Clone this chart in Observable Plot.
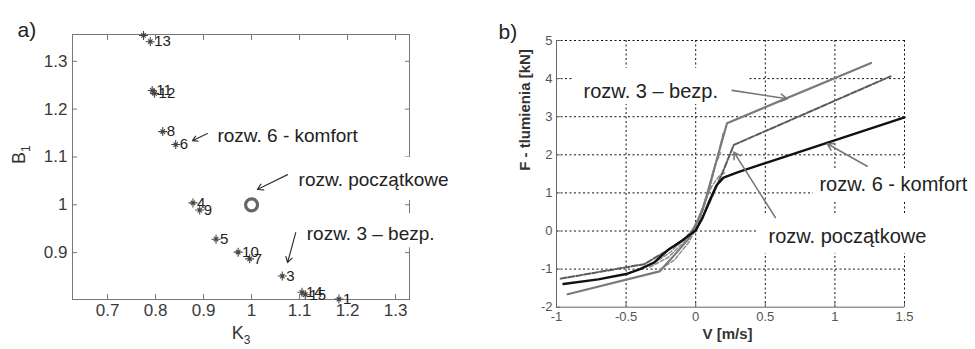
<!DOCTYPE html>
<html><head><meta charset="utf-8">
<script src="https://cdn.jsdelivr.net/npm/d3@7"></script>
<script src="https://cdn.jsdelivr.net/npm/@observablehq/plot@0.6"></script>
<style>
body{margin:0;background:#fff;}
#wrap{position:relative;width:975px;height:349px;overflow:hidden;background:#fff;}
#a{position:absolute;left:0;top:0;}
#b{position:absolute;left:480px;top:0;}
svg{overflow:visible;}
</style></head><body><div id="wrap"><div id="a"></div><div id="b"></div></div>
<script>
// ---------- Panel a data ----------
const solIds    = [1,2,3,4,5,6,7,8,9,10,11,12,13,14,15];
const solK3     = [1.182,0.775,1.064,0.878,0.926,0.842,0.996,0.815,0.892,0.972,0.793,0.798,0.789,1.105,1.112];
const solB1     = [0.803,1.354,0.851,1.004,0.928,1.126,0.887,1.153,0.989,0.901,1.239,1.233,1.341,0.817,0.812];
const solLabels = ["1","","3","4","5","6","7","8","9","10","11","12","13","14","15"];
const initK3 = [1.0];
const initB1 = [1.0];
const aXTicks = [0.7,0.8,0.9,1,1.1,1.2,1.3];
const aYTicks = [0.9,1,1.1,1.2,1.3];
const aXDomain = [0.627,1.329];
const aYDomain = [0.802,1.356];
const aAnnoText = ["rozw. 6 - komfort","rozw. początkowe","rozw. 3 – bezp."];
const aAnnoX = [0.929,1.098,1.115];
const aAnnoY = [1.144,1.053,0.940];
const aArrowX1 = [0.908,1.075,1.092];
const aArrowY1 = [1.149,1.063,0.942];
const aArrowX2 = [0.877,1.012,1.075];
const aArrowY2 = [1.134,1.032,0.879];
const aBoxX1 = [1.081,1.102];
const aBoxX2 = [1.435,1.404];
const aBoxY1 = [1.009,0.910];
const aBoxY2 = [1.099,0.9815];

// ---------- Panel b data ----------
const bXTicks = [-1,-0.5,0,0.5,1,1.5];
const bYTicks = [-2,-1,0,1,2,3,4,5];
const bXDomain = [-1,1.5];
const bYDomain = [-2,5];
const vRozw3 = [-0.92,-0.26,-0.15,-0.05,0.05,0.15,0.225,1.26];
const fRozw3 = [-1.66,-1.06,-0.62,-0.2,0.55,1.85,2.83,4.41];
const vInit  = [-0.97,-0.37,-0.22,-0.1,0,0.1,0.2,0.274,1.40];
const fInit  = [-1.25,-0.87,-0.55,-0.25,0.0,0.75,1.6,2.26,4.06];
const vR6    = [-0.95,-0.7,-0.5,-0.4,-0.3,-0.2,-0.1,0,0.05,0.1,0.15,0.2,0.3,1.5];
const fR6    = [-1.39,-1.27,-1.13,-1.0,-0.83,-0.5,-0.26,0.02,0.35,0.8,1.2,1.4,1.54,2.98];
const vO1 = [-0.33,-0.2,-0.1,0,0.08,0.14,0.18];
const fO1 = [-0.95,-0.7,-0.35,0.1,0.95,1.75,2.05];
const vO2 = [-0.3,-0.18,-0.08,0,0.07,0.12,0.17,0.22];
const fO2 = [-0.85,-0.55,-0.2,0.15,0.8,1.2,1.45,1.55];
const vO3 = [-0.25,-0.15,-0.05,0.02,0.1,0.16,0.2];
const fO3 = [-1.0,-0.75,-0.3,0.2,1.1,2.0,2.6];
const bAnnoText = ["rozw. 3 – bezp.","rozw. 6 - komfort","rozw. początkowe"];
const bAnnoX = [-0.806,0.889,0.523];
const bAnnoY = [3.65,1.205,-0.134];
const bArrowX1 = [0.262,1.232,0.573];
const bArrowY1 = [3.69,1.70,0.35];
const bArrowX2 = [0.657,0.945,0.274];
const bArrowY2 = [3.47,2.29,2.07];
const bBoxX1 = [-0.885,0.846,0.444];
const bBoxX2 = [0.379,1.70,1.76];
const bBoxY1 = [3.32,0.80,-0.59];
const bBoxY2 = [4.27,1.64,0.46];

const FONT = '"Liberation Sans", Arial, sans-serif';
const pts = (xs, ys) => xs.map((x, i) => ({x, y: ys[i]}));

const asterisk = {draw(ctx, size){
  const r = Math.sqrt(size / Math.PI);
  ctx.moveTo(-r, 0); ctx.lineTo(r, 0);
  ctx.moveTo(0, -r); ctx.lineTo(0, r);
  const d = r * 0.5;
  ctx.moveTo(-d, -d); ctx.lineTo(d, d);
  ctx.moveTo(-d, d); ctx.lineTo(d, -d);
}};

const solData = solIds.map((id, i) => ({id, k3: solK3[i], b1: solB1[i], label: solLabels[i]}));
const aAnno = aAnnoText.map((t, i) => ({t, x: aAnnoX[i], y: aAnnoY[i]}));
const aArrows = aArrowX1.map((_, i) => ({x1: aArrowX1[i], y1: aArrowY1[i], x2: aArrowX2[i], y2: aArrowY2[i]}));
const aBoxes = aBoxX1.map((_, i) => ({x1: aBoxX1[i], x2: aBoxX2[i], y1: aBoxY1[i], y2: aBoxY2[i]}));

const plotA = Plot.plot({
  width: 470, height: 349,
  marginLeft: 72, marginRight: 61, marginTop: 34, marginBottom: 50,
  x: {domain: aXDomain},
  y: {domain: aYDomain},
  style: {fontFamily: FONT, fontSize: "17px", color: "#3a3a3a", background: "transparent", overflow: "visible"},
  marks: [
    Plot.frame({stroke: "#777"}),
    Plot.axisX({ticks: aXTicks, tickSize: -5, tickPadding: 9, tickFormat: d => String(d), label: null, fontSize: 17, stroke: "#777"}),
    Plot.axisX({anchor: "top", ticks: aXTicks, tickSize: -5, tickFormat: () => "", label: null, stroke: "#777"}),
    Plot.axisY({ticks: aYTicks, tickSize: -5, tickPadding: 10, tickFormat: d => String(d), label: null, fontSize: 17, stroke: "#777"}),
    Plot.axisY({anchor: "right", ticks: aYTicks, tickSize: -5, tickFormat: () => "", label: null, stroke: "#777"}),
    Plot.rect(aBoxes, {x1: "x1", x2: "x2", y1: "y1", y2: "y2", fill: "white"}),
    Plot.dot(solData, {x: "k3", y: "b1", symbol: asterisk, r: 4.5, stroke: "#444", fill: "none", strokeWidth: 1.1}),
    Plot.text(solData, {x: "k3", y: "b1", text: "label", dx: 4, textAnchor: "start", fontSize: 15, fill: "#222"}),
    Plot.dot(pts(initK3, initB1), {x: "x", y: "y", r: 6, stroke: "#666", strokeWidth: 3.2, fill: "none"}),
    Plot.arrow(aArrows, {x1: "x1", y1: "y1", x2: "x2", y2: "y2", stroke: "#333", strokeWidth: 1.2, headLength: 8}),
    Plot.text(aAnno, {x: "x", y: "y", text: "t", textAnchor: "start", fontSize: 19, fill: "#222"}),
    Plot.text(["B₁"], {frameAnchor: "left", dx: -53, dy: -3, rotate: -90, fontSize: 18, fill: "#333"}),
    Plot.text(["K₃"], {frameAnchor: "bottom", dx: 0, dy: 39, fontSize: 18, fill: "#333"}),
    Plot.text(["a)"], {frameAnchor: "top-left", dx: -55, dy: -12, textAnchor: "start", fontSize: 21, fill: "#222"})
  ]
});
document.getElementById("a").appendChild(plotA);

const bAnno = bAnnoText.map((t, i) => ({t, x: bAnnoX[i], y: bAnnoY[i]}));
const bArrows = bArrowX1.map((_, i) => ({x1: bArrowX1[i], y1: bArrowY1[i], x2: bArrowX2[i], y2: bArrowY2[i]}));
const bBoxes = bBoxX1.map((_, i) => ({x1: bBoxX1[i], x2: bBoxX2[i], y1: bBoxY1[i], y2: bBoxY2[i]}));
const dash = {strokeDasharray: "4,2", stroke: "#8a8a8a", strokeWidth: 1.4};

const plotB = Plot.plot({
  width: 495, height: 349,
  marginLeft: 76, marginRight: 71, marginTop: 40, marginBottom: 42.3,
  x: {domain: bXDomain},
  y: {domain: bYDomain},
  style: {fontFamily: FONT, fontSize: "13px", color: "#555", background: "transparent", overflow: "visible"},
  marks: [
    Plot.gridX(bXTicks.slice(1), {stroke: "#111", strokeOpacity: 1, strokeDasharray: "2,2.5"}),
    Plot.gridY(bYTicks.slice(1), {stroke: "#111", strokeOpacity: 1, strokeDasharray: "2,2.5"}),
    Plot.rect(bBoxes, {x1: "x1", x2: "x2", y1: "y1", y2: "y2", fill: "white"}),
    Plot.ruleX([bXDomain[0]], {stroke: "#666"}),
    Plot.ruleY([bYDomain[0]], {stroke: "#666"}),
    Plot.axisX({ticks: bXTicks, tickSize: -4, tickPadding: 9, tickFormat: d => String(d), label: null, fontSize: 13, stroke: "#666"}),
    Plot.axisY({ticks: bYTicks, tickSize: -4, tickPadding: 8, tickFormat: d => String(d), label: null, fontSize: 13, stroke: "#666"}),
    Plot.line(pts(vO1, fO1), {x: "x", y: "y", ...dash}),
    Plot.line(pts(vO2, fO2), {x: "x", y: "y", ...dash}),
    Plot.line(pts(vO3, fO3), {x: "x", y: "y", ...dash}),
    Plot.line(pts(vInit, fInit), {x: "x", y: "y", stroke: "#5a5a5a", strokeWidth: 2, strokeDasharray: "6,2"}),
    Plot.line(pts(vRozw3, fRozw3), {x: "x", y: "y", stroke: "#7a7a7a", strokeWidth: 2.2}),
    Plot.line(pts(vR6, fR6), {x: "x", y: "y", stroke: "#111", strokeWidth: 2.4}),
    Plot.arrow(bArrows, {x1: "x1", y1: "y1", x2: "x2", y2: "y2", stroke: "#777", strokeWidth: 1.6, headLength: 7}),
    Plot.text(bAnno, {x: "x", y: "y", text: "t", textAnchor: "start", fontSize: 20, fill: "#222"}),
    Plot.text(["F - tlumienia [kN]"], {frameAnchor: "left", dx: -31, dy: -3, rotate: -90, fontSize: 15, fontWeight: "bold", fill: "#333"}),
    Plot.text(["V [m/s]"], {frameAnchor: "bottom", dx: -3, dy: 32, fontSize: 15, fontWeight: "bold", fill: "#333"}),
    Plot.text(["b)"], {frameAnchor: "top-left", dx: -58, dy: -16, textAnchor: "start", fontSize: 21, fill: "#222"})
  ]
});
document.getElementById("b").appendChild(plotB);

// turn unicode subscripts into real SVG subscripts
const subs = {"B₁": ["B", "1"], "K₃": ["K", "3"]};
d3.select(plotA).selectAll("text").each(function() {
  const s = subs[this.textContent];
  if (!s) return;
  const t = d3.select(this);
  t.text(s[0]);
  t.append("tspan").attr("dy", 5).attr("font-size", 12).text(s[1]);
});
</script></body></html>
